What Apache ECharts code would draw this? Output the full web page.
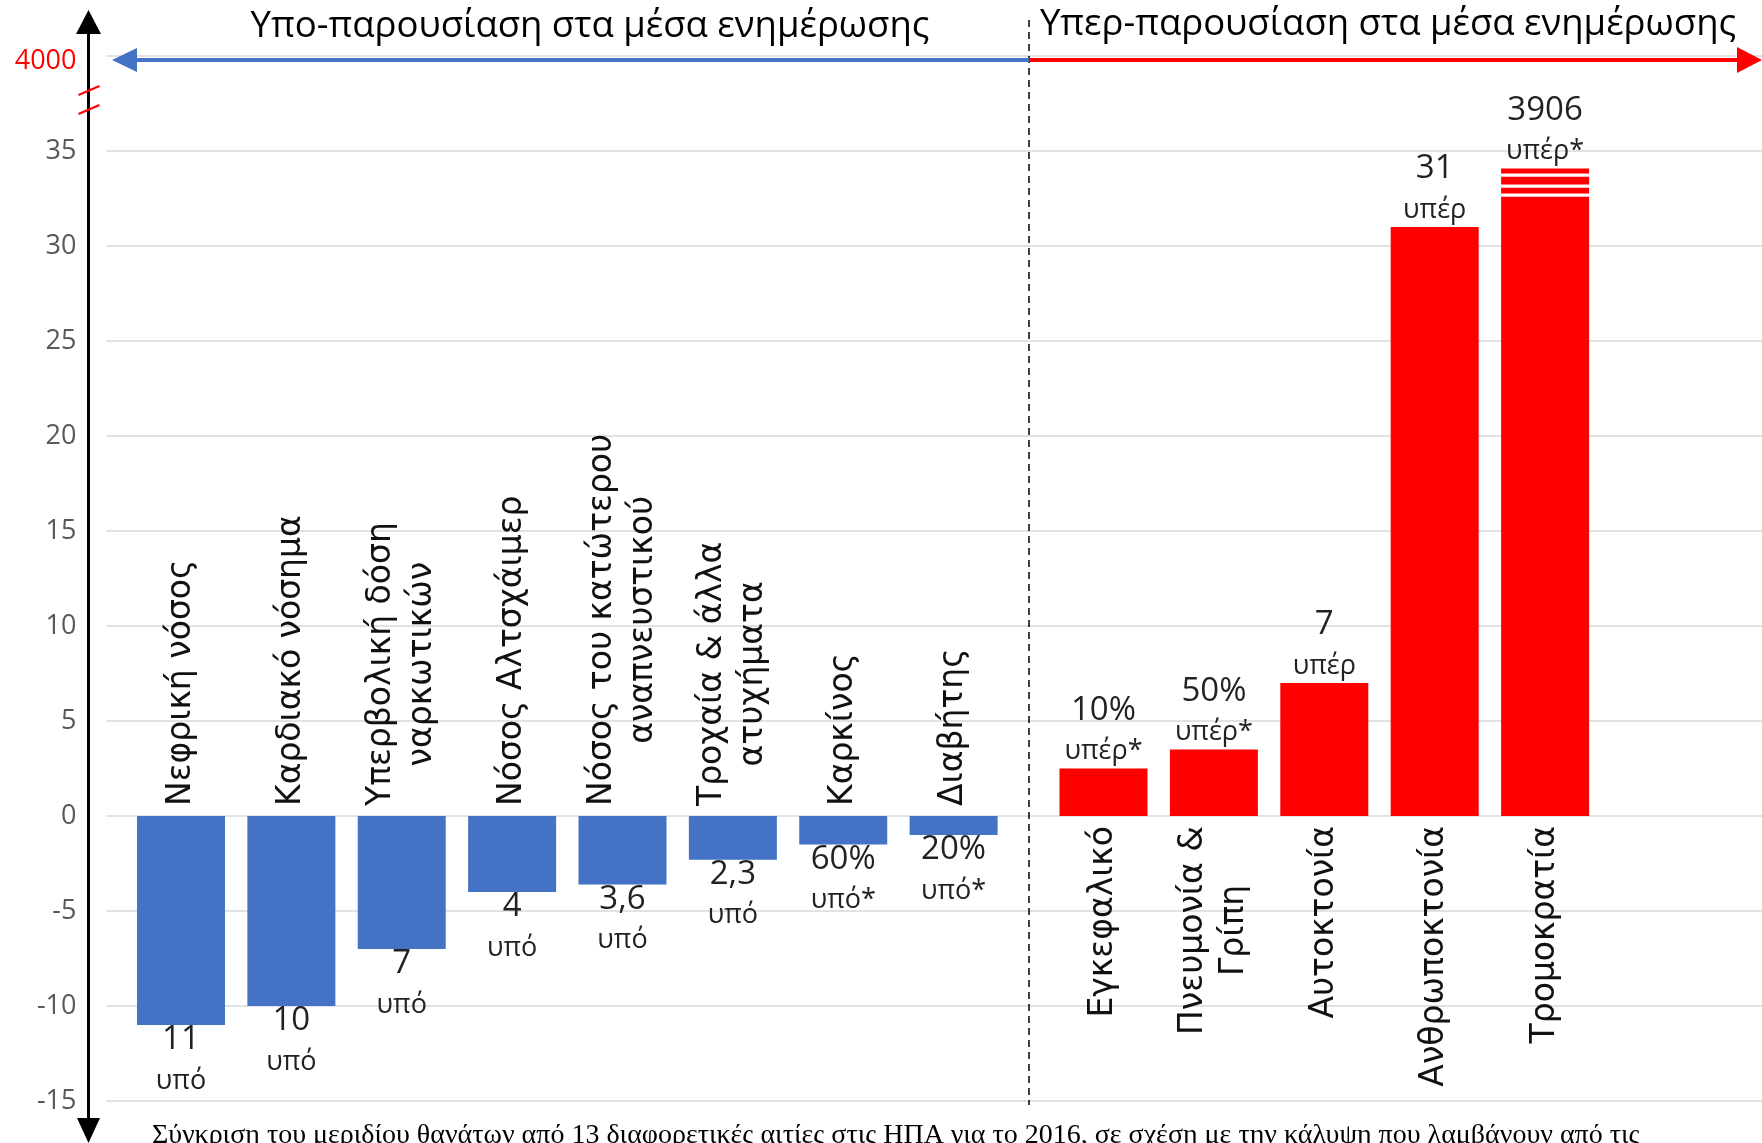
<!DOCTYPE html>
<html>
<head>
<meta charset="utf-8">
<script src="https://cdn.jsdelivr.net/npm/echarts@6/dist/echarts.min.js"></script>
<style>
  html, body { margin: 0; padding: 0; background: #fff; }
  #chart { width: 1762px; height: 1143px; }
</style>
</head>
<body>
<div id="chart"></div>
<script>
// causes that get less coverage than their share of deaths
const underCauses = ['Νεφρική νόσος', 'Καρδιακό νόσημα', 'Υπερβολική δόση\nναρκωτικών', 'Νόσος Αλτσχάιμερ',
  'Νόσος του κατώτερου\nαναπνευστικού', 'Τροχαία & άλλα\nατυχήματα', 'Καρκίνος', 'Διαβήτης'];
const underValues = [-11, -10, -7, -4, -3.6, -2.3, -1.5, -1];
const underLabels = ['11', '10', '7', '4', '3,6', '2,3', '60%', '20%'];
const underTags = ['υπό', 'υπό', 'υπό', 'υπό', 'υπό', 'υπό', 'υπό*', 'υπό*'];

// causes that get more coverage
const overCauses = ['Εγκεφαλικό', 'Πνευμονία &\nΓρίπη', 'Αυτοκτονία', 'Ανθρωποκτονία', 'Τρομοκρατία'];
const overValues = [2.5, 3.5, 7, 31, 32.6];
const overLabels = ['10%', '50%', '7', '31', '3906'];
const overTags = ['υπέρ*', 'υπέρ*', 'υπέρ', 'υπέρ', 'υπέρ*'];
// the terrorism bar is cut: white / red stripes stacked on its top
const breakStripes = [0.16, 0.32, 0.16, 0.42, 0.16, 0.26];
const breakIndex = 4;

// value axis
const yMin = -15;
const yMax = 40;
const yStep = 5;
const breakTickLabel = '4000';

const caption = 'Σύγκριση του μεριδίου θανάτων από 13 διαφορετικές αιτίες στις ΗΠΑ για το 2016, σε σχέση με την κάλυψη που λαμβάνουν από τις';

const BLUE = '#4472C4';
const RED = '#FF0000';
const labelFont = "'Open Sans', sans-serif";

// grids share top/bottom so the zero line sits at the same height
const gridTop = 56;
const gridBottom = 42;
const zeroOffset = -285; // pulls the category axes up to y = 0

const chart = echarts.init(document.getElementById('chart'));

function barLabel(values, tags) {
  return function (p) {
    return '{v|' + values[p.dataIndex] + '}\n{t|' + tags[p.dataIndex] + '}';
  };
}
const barRich = {
  v: { fontSize: 33, lineHeight: 38, color: '#222', fontFamily: labelFont },
  t: { fontSize: 27, lineHeight: 44, color: '#222', fontFamily: labelFont }
};
function catFormatter(value) {
  return value.split('\n').map(s => '{c|' + s + '}').join('\n');
}
const catRich = {
  c: { align: 'center', fontSize: 33, lineHeight: 41, color: '#111', fontFamily: "'DejaVu Sans', sans-serif" }
};

const stripeSeries = breakStripes.map((h, k) => {
  const data = overCauses.map((c, i) => (i === breakIndex ? h : '-'));
  const last = k === breakStripes.length - 1;
  return {
    type: 'bar',
    xAxisIndex: 2,
    yAxisIndex: 2,
    stack: 'over',
    barWidth: 88,
    data: data,
    itemStyle: { color: k % 2 === 0 ? '#fff' : RED },
    label: {
      show: last,
      position: 'top',
      distance: -5,
      formatter: barLabel(overLabels, overTags),
      rich: barRich
    }
  };
});

chart.setOption({
  backgroundColor: '#fff',
  animation: false,
  grid: [
    { left: 106.5, right: 0, top: gridTop, bottom: gridBottom, outerBoundsMode: 'none' },
    { left: 125.8, width: 883, top: gridTop, bottom: gridBottom, outerBoundsMode: 'none' },
    { left: 1048.3, width: 552, top: gridTop, bottom: gridBottom, outerBoundsMode: 'none' }
  ],
  xAxis: [
    { gridIndex: 0, type: 'value', min: 0, max: 1, show: false },
    {
      gridIndex: 1,
      type: 'category',
      data: underCauses,
      position: 'bottom',
      offset: zeroOffset,
      axisLine: { show: false, onZero: false },
      axisTick: { show: false },
      axisLabel: { inside: true, rotate: 90, margin: 10, interval: 0, formatter: catFormatter, rich: catRich }
    },
    {
      gridIndex: 2,
      type: 'category',
      data: overCauses,
      position: 'bottom',
      offset: zeroOffset,
      axisLine: { show: false, onZero: false },
      axisTick: { show: false },
      axisLabel: { rotate: 90, margin: 10, interval: 0, formatter: catFormatter, rich: catRich }
    }
  ],
  yAxis: [
    {
      gridIndex: 0,
      type: 'value',
      min: yMin,
      max: yMax,
      interval: yStep,
      axisLine: { show: false },
      axisTick: { show: false },
      splitLine: { show: true, lineStyle: { color: '#d9d9d9', width: 1.5 } },
      axisLabel: {
        margin: 30,
        fontSize: 27,
        color: '#595959',
        fontFamily: labelFont,
        formatter: function (v) {
          return v === yMax ? '{b|' + breakTickLabel + '}' : String(v);
        },
        rich: { b: { color: RED, fontSize: 27, fontFamily: labelFont, padding: [10, 0, 0, 0] } }
      }
    },
    { gridIndex: 1, type: 'value', min: yMin, max: yMax, interval: yStep, show: false, splitLine: { show: false } },
    { gridIndex: 2, type: 'value', min: yMin, max: yMax, interval: yStep, show: false, splitLine: { show: false } }
  ],
  series: [
    {
      name: 'under',
      type: 'bar',
      xAxisIndex: 1,
      yAxisIndex: 1,
      barWidth: 88,
      data: underValues,
      itemStyle: { color: BLUE },
      label: {
        show: true,
        position: 'bottom',
        distance: -4,
        formatter: barLabel(underLabels, underTags),
        rich: barRich
      }
    },
    {
      name: 'over',
      type: 'bar',
      xAxisIndex: 2,
      yAxisIndex: 2,
      stack: 'over',
      barWidth: 88,
      data: overValues.map((v, i) => (i === breakIndex ? { value: v, label: { show: false } } : v)),
      itemStyle: { color: RED },
      label: {
        show: true,
        position: 'top',
        distance: -5,
        formatter: barLabel(overLabels, overTags),
        rich: barRich
      }
    }
  ].concat(stripeSeries),
  graphic: [
    // vertical axis with arrows
    { type: 'line', z: 100, shape: { x1: 88.5, y1: 25, x2: 88.5, y2: 1125 }, style: { stroke: '#000', lineWidth: 3 } },
    { type: 'polygon', z: 100, shape: { points: [[88.5, 10], [76, 34], [101, 34]] }, style: { fill: '#000' } },
    { type: 'polygon', z: 100, shape: { points: [[88.5, 1143], [77, 1118], [100, 1118]] }, style: { fill: '#000' } },
    // axis break marks
    { type: 'line', z: 101, shape: { x1: 78.5, y1: 95, x2: 99.5, y2: 86 }, style: { stroke: RED, lineWidth: 2 } },
    { type: 'line', z: 101, shape: { x1: 78.5, y1: 114, x2: 99.5, y2: 105 }, style: { stroke: RED, lineWidth: 2 } },
    // divider between the two groups
    { type: 'line', z: 90, shape: { x1: 1029, y1: 20, x2: 1029, y2: 1105 }, style: { stroke: '#000', lineWidth: 1.5, lineDash: [7, 5] } },
    // direction arrows
    { type: 'line', z: 100, shape: { x1: 130, y1: 60, x2: 1029, y2: 60 }, style: { stroke: BLUE, lineWidth: 4 } },
    { type: 'polygon', z: 100, shape: { points: [[112, 60], [137, 48], [137, 72]] }, style: { fill: BLUE } },
    { type: 'line', z: 100, shape: { x1: 1029, y1: 60, x2: 1742, y2: 60 }, style: { stroke: RED, lineWidth: 4 } },
    { type: 'polygon', z: 100, shape: { points: [[1762, 60], [1737, 47], [1737, 73]] }, style: { fill: RED } },
    // headings
    {
      type: 'text', z: 100, x: 590, y: 27,
      style: { text: 'Υπο-παρουσίαση στα μέσα ενημέρωσης', fontSize: 36.5, fontFamily: labelFont, fill: '#000', align: 'center', verticalAlign: 'middle' }
    },
    {
      type: 'text', z: 100, x: 1388, y: 25,
      style: { text: 'Υπερ-παρουσίαση στα μέσα ενημέρωσης', fontSize: 36.5, fontFamily: labelFont, fill: '#000', align: 'center', verticalAlign: 'middle' }
    },
    // caption, cut by the bottom edge
    {
      type: 'text', z: 100, x: 152, y: 1136,
      style: { text: caption, fontSize: 28, fontFamily: "'Liberation Serif', serif", fill: '#000', align: 'left', verticalAlign: 'middle' }
    }
  ]
});
</script>
</body>
</html>
